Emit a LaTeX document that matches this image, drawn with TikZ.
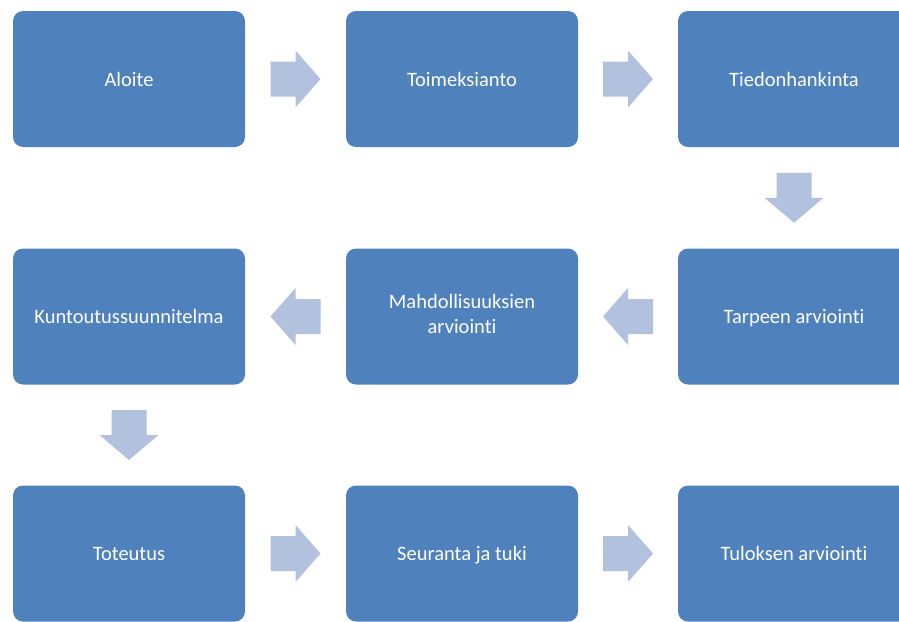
\documentclass[tikz,border=0pt]{standalone}
\usepackage{fontspec}
\setmainfont{Carlito}[Ligatures={NoCommon}]
\usetikzlibrary{calc}
\definecolor{boxblue}{HTML}{4F81BD}
\definecolor{arrowblue}{HTML}{B2C1DD}
\newcommand\boxstrut{\rule[-5.5pt]{0pt}{25pt}}
\begin{document}
\begin{tikzpicture}[x=1pt,y=-1pt,
  stepbox/.style={fill=boxblue, rounded corners=10pt, minimum width=232pt, minimum height=136pt,
    inner sep=0pt, outer sep=0pt, text=white, align=center,
    font=\fontsize{20.5}{25}\selectfont,
    execute at begin node=\boxstrut, execute at end node=\boxstrut},
  rarrow/.pic={\fill[arrowblue] (-25,-17.5) -- (0,-17.5) -- (0,-28.5) -- (25,0) -- (0,28.5) -- (0,17.5) -- (-25,17.5) -- cycle;},
  larrow/.pic={\fill[arrowblue] (25,-17.5) -- (0,-17.5) -- (0,-28.5) -- (-25,0) -- (0,28.5) -- (0,17.5) -- (25,17.5) -- cycle;},
  darrow/.pic={\fill[arrowblue] (-17.5,-25) -- (-17.5,0) -- (-29.5,0) -- (0,25) -- (29.5,0) -- (17.5,0) -- (17.5,-25) -- cycle;}
]
\useasboundingbox (0,0) rectangle (899,621);
\clip (0,0) rectangle (899,621);
\node[stepbox] (n1) at (129,79) {Aloite};
\node[stepbox] (n2) at (462,79) {Toimeksianto};
\node[stepbox] (n3) at (794,79) {Tiedonhankinta};
\node[stepbox] (n4) at (794,316.5) {Tarpeen arviointi};
\node[stepbox] (n5) at (462,316.5) {Mahdollisuuksien\\arviointi};
\node[stepbox] (n6) at (129,316.5) {Kuntoutussuunnitelma};
\node[stepbox] (n7) at (129,553.5) {Toteutus};
\node[stepbox] (n8) at (462,553.5) {Seuranta ja tuki};
\node[stepbox] (n9) at (794,553.5) {Tuloksen arviointi};
\path ($(n1.east)!0.5!(n2.west)$) pic {rarrow};
\path ($(n2.east)!0.5!(n3.west)$) pic {rarrow};
\path ($(n3.south)!0.5!(n4.north)$) pic {darrow};
\path ($(n4.west)!0.5!(n5.east)$) pic {larrow};
\path ($(n5.west)!0.5!(n6.east)$) pic {larrow};
\path ($(n6.south)!0.5!(n7.north)$) pic {darrow};
\path ($(n7.east)!0.5!(n8.west)$) pic {rarrow};
\path ($(n8.east)!0.5!(n9.west)$) pic {rarrow};
\end{tikzpicture}
\end{document}
